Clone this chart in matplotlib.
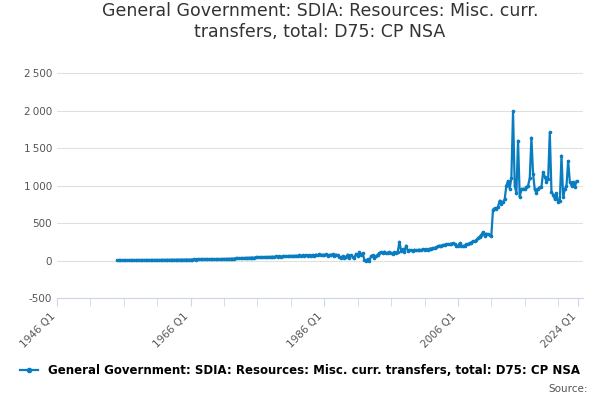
import numpy as np
import pandas as pd
import matplotlib.pyplot as plt

title = 'General Government: SDIA: Resources: Misc. curr.\ntransfers, total: D75: CP NSA'
series_name = 'General Government: SDIA: Resources: Misc. curr. transfers, total: D75: CP NSA'
start = '1955Q1'

# quarterly values, one row per year
values = [
    5, 5, 6, 5,  5, 6, 6, 5,  6, 6, 6, 6,  6, 7, 6, 7,  7, 7, 7, 7,   # 1955-59
    7, 8, 7, 8,  8, 8, 8, 9,  9, 9, 9, 10,  10, 10, 11, 10,  11, 11, 12, 11,  # 1960-64
    12, 12, 13, 12,  13, 13, 14, 13,  14, 15, 14, 15,  15, 16, 16, 17,  17, 18, 17, 19,  # 1965-69
    19, 20, 19, 21,  21, 22, 22, 24,  24, 26, 25, 28,  28, 30, 29, 33,  33, 36, 34, 38,  # 1970-74
    38, 40, 37, 42,  42, 44, 41, 46,  45, 48, 44, 50,  48, 52, 47, 54,  52, 56, 50, 58,  # 1975-79
    56, 60, 54, 62,  60, 64, 58, 66,  62, 68, 60, 70,  64, 72, 62, 74,  66, 76, 64, 80,  # 1980-84
    70, 82, 68, 80,  72, 84, 60, 78,  74, 86, 66, 80,  70, 50, 40, 60,  30, 50, 80, 40,  # 1985-89
    70, 50, 30, 90,  60, 110, 70, 100, 10, -5, 20, -10,  60, 70, 40, 55,  80, 100, 110, 95,  # 1990-94
    120, 100, 105, 115,  100, 90, 110, 100,  120, 250, 130, 150,  120, 200, 130, 140,  140, 130, 145, 135,  # 1995-99
    140, 145, 140, 150,  145, 150, 140, 160,  160, 170, 165, 175,  190, 200, 195, 210,  210, 220, 215, 220,  # 2000-04
    225, 230, 215, 200,  190, 230, 200, 195,  200, 215, 220, 235,  240, 260, 255, 270,  300, 320, 340, 380,  # 2005-09
    330, 360, 350, 340,  330, 680, 700, 690,  720, 800, 760, 780,  820, 1000, 1060, 960,  1100, 1990, 1000, 900,  # 2010-14
    1600, 850, 950, 960,  950, 980, 1000, 1100,  1640, 1150, 950, 900,  960, 980, 980, 1180,  1120, 1050, 1090, 1710,  # 2015-19
    920, 880, 820, 900,  780, 800, 1400, 850,  950, 1000, 1330, 1050,  1000, 1050, 980, 1060,  # 2020-23
]
quarters = pd.period_range(start, periods=len(values), freq='Q')
x = quarters.year + (quarters.quarter - 1) / 4.0

blue = '#0a7dc1'
fig, ax = plt.subplots(figsize=(6, 4), dpi=100)
fig.subplots_adjust(left=0.095, right=0.972, top=0.845, bottom=0.255)
ax.plot(x, values, color=blue, lw=1.6, marker='o', ms=1.6)

ax.set_xlim(1946, 2024.75)
ax.set_ylim(-500, 2650)
ax.set_yticks(range(-500, 2501, 500))
ax.set_yticklabels([f'{v:,}'.replace(',', '\u202f') if v >= 1000 else str(v) for v in range(-500, 2501, 500)],
                   fontsize=7.5, color='#555555')
ax.set_xticks([1946, 1966, 1986, 2006, 2024])
ax.set_xticklabels(['1946 Q1', '1966 Q1', '1986 Q1', '2006 Q1', '2024 Q1'], rotation=45, ha='right',
                   fontsize=7.5, color='#555555')
ax.set_xticks(np.arange(1946, 2025, 5), minor=True)
ax.grid(axis='y', color='#e0e0e0', lw=0.8)
ax.tick_params(axis='y', length=0)
ax.tick_params(axis='x', which='both', color='#ccd6eb', length=6)
for s in ['top', 'right', 'left']:
    ax.spines[s].set_visible(False)
ax.spines['bottom'].set_color('#ccd6eb')
ax.set_title(title, fontsize=12.5, color='#333333', pad=18)

fig.legend([plt.Line2D([], [], color=blue, marker='o', ms=3, lw=1.6)], [series_name],
           loc='lower center', bbox_to_anchor=(0.5, 0.03), frameon=False,
           prop={'size': 8.5, 'weight': 'bold'}, handlelength=1.5)
fig.text(0.98, 0.02, 'Source:', ha='right', fontsize=7.5, color='#555555')
fig.savefig('out.png')
